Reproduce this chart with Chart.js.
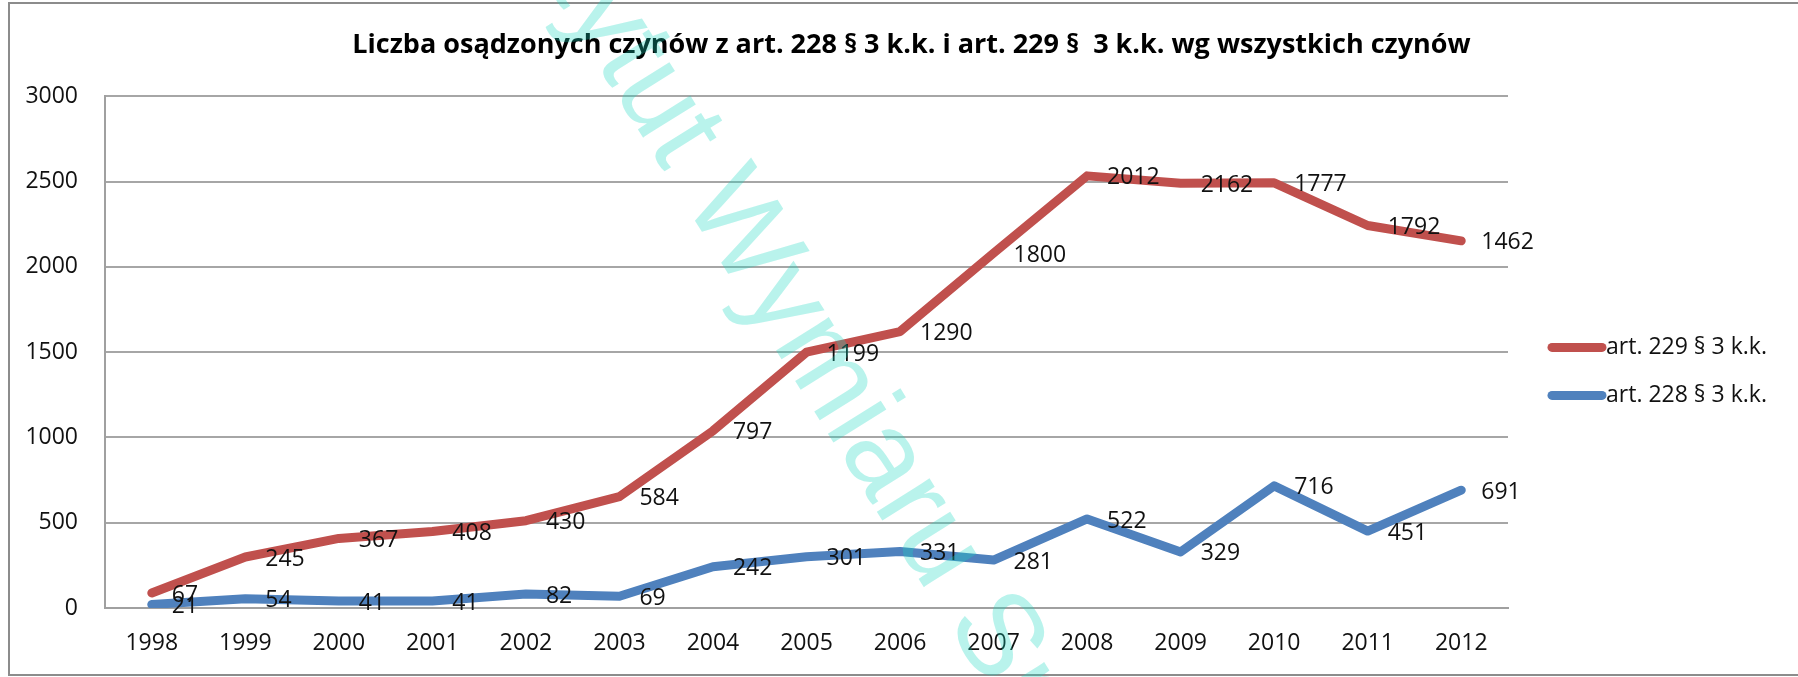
<!DOCTYPE html>
<html>
<head>
<meta charset="utf-8">
<script src="https://cdn.jsdelivr.net/npm/chart.js@4"></script>
<style>
  html, body { margin: 0; padding: 0; background: #fff; overflow: hidden; }
  #wrap { position: relative; width: 1798px; height: 677px; }
  #frame { position: absolute; left: 8px; top: 2px; width: 1820px; height: 674px; border: 2px solid #8c8c8c; box-sizing: border-box; }
  canvas { position: absolute; left: 0; top: 0; }
</style>
</head>
<body>
<div id="wrap">
  <div id="frame"></div>
  <canvas id="chart" width="1798" height="677"></canvas>
</div>
<script>
const years = ['1998','1999','2000','2001','2002','2003','2004','2005','2006','2007','2008','2009','2010','2011','2012'];
const art228 = [21, 54, 41, 41, 82, 69, 242, 301, 331, 281, 522, 329, 716, 451, 691];
const art229 = [67, 245, 367, 408, 430, 584, 797, 1199, 1290, 1800, 2012, 2162, 1777, 1792, 1462];
const yMax = 3000;
const yStep = 500;

const labelFont = "23px 'Open Sans'";

// values written next to every point (the line itself is stacked)
const valueLabels = {
    id: 'valueLabels',
    afterDatasetsDraw(chart){
        const ctx = chart.ctx;
        ctx.save();
        ctx.font = labelFont;
        ctx.fillStyle = '#111';
        ctx.textAlign = 'left';
        ctx.textBaseline = 'middle';
        chart.data.datasets.forEach((ds, i) => {
            chart.getDatasetMeta(i).data.forEach((pt, j) => {
                ctx.fillText(ds.data[j], pt.x + 20, pt.y + 2);
            });
        });
        ctx.restore();
    }
};

// legend on the right, red above blue
const sideLegend = {
    id: 'sideLegend',
    afterDraw(chart){
        const ctx = chart.ctx;
        const area = chart.chartArea;
        const x0 = area.right + 40;
        let y = area.top + 251;
        ctx.save();
        ctx.font = "23px 'Open Sans'";
        ctx.textBaseline = 'middle';
        ctx.textAlign = 'left';
        chart.data.datasets.slice().reverse().forEach(ds => {
            ctx.strokeStyle = ds.borderColor;
            ctx.lineWidth = 9;
            ctx.lineCap = 'round';
            ctx.beginPath();
            ctx.moveTo(x0 + 4, y);
            ctx.lineTo(x0 + 54, y);
            ctx.stroke();
            ctx.fillStyle = '#111';
            ctx.fillText(ds.label, x0 + 58, y);
            y += 48;
        });
        ctx.restore();
    }
};

const watermark = {
    id: 'watermark',
    afterDraw(chart){
        const ctx = chart.ctx;
        const text = 'Instytut Wymiaru Sprawiedliwości';
        ctx.save();
        ctx.font = "118px 'Liberation Sans'";
        ctx.fillStyle = 'rgba(22, 215, 192, 0.3)';
        ctx.translate(682, 200);
        ctx.rotate(58 * Math.PI / 180);
        const lead = ctx.measureText('Instytut ').width;
        ctx.textBaseline = 'alphabetic';
        ctx.fillText(text, -lead, 0);
        ctx.restore();
    }
};

new Chart(document.getElementById('chart'), {
    type: 'line',
    data: {
        labels: years,
        datasets: [{
            label: 'art. 228 § 3 k.k.',
            data: art228,
            borderColor: '#4F81BD',
            backgroundColor: '#4F81BD',
            borderWidth: 9,
            pointRadius: 0,
            tension: 0,
            fill: false,
            borderJoinStyle: 'round',
            borderCapStyle: 'round'
        },{
            label: 'art. 229 § 3 k.k.',
            data: art229,
            borderColor: '#C0504D',
            backgroundColor: '#C0504D',
            borderWidth: 9,
            pointRadius: 0,
            tension: 0,
            fill: false,
            borderJoinStyle: 'round',
            borderCapStyle: 'round'
        }]
    },
    options: {
        responsive: false,
        animation: false,
        layout: { padding: { left: 25, right: 0, top: 0, bottom: 0 } },
        plugins: {
            legend: { display: false },
            tooltip: { enabled: false },
            title: {
                display: true,
                text: 'Liczba osądzonych czynów z art. 228 § 3 k.k. i art. 229 §  3 k.k. wg wszystkich czynów',
                color: '#000',
                font: { family: 'Open Sans', size: 27, weight: 'bold' },
                padding: { top: 29, bottom: 35 }
            }
        },
        scales: {
            x: {
                offset: true,
                afterFit(scale){ scale.height = 69; },
                grid: { display: false, drawTicks: false },
                border: { display: true, color: '#a0a0a0', width: 2 },
                ticks: { color: '#111', font: { family: 'Open Sans', size: 23 }, padding: 22, maxRotation: 0 }
            },
            y: {
                stacked: true,
                min: 0,
                max: yMax,
                afterFit(scale){ scale.width = 80; },
                grid: { color: '#a6a6a6', lineWidth: 2, drawTicks: false },
                border: { display: true, color: '#a0a0a0', width: 2 },
                ticks: { stepSize: yStep, color: '#111', font: { family: 'Open Sans', size: 23 }, padding: 27,
                         callback: v => String(v) }
            },
            // empty space on the right where the legend goes
            side: {
                position: 'right',
                afterFit(scale){ scale.width = 290; },
                grid: { display: false, drawTicks: false },
                border: { display: false },
                ticks: { display: false }
            }
        }
    },
    plugins: [valueLabels, sideLegend, watermark]
});
</script>
</body>
</html>
